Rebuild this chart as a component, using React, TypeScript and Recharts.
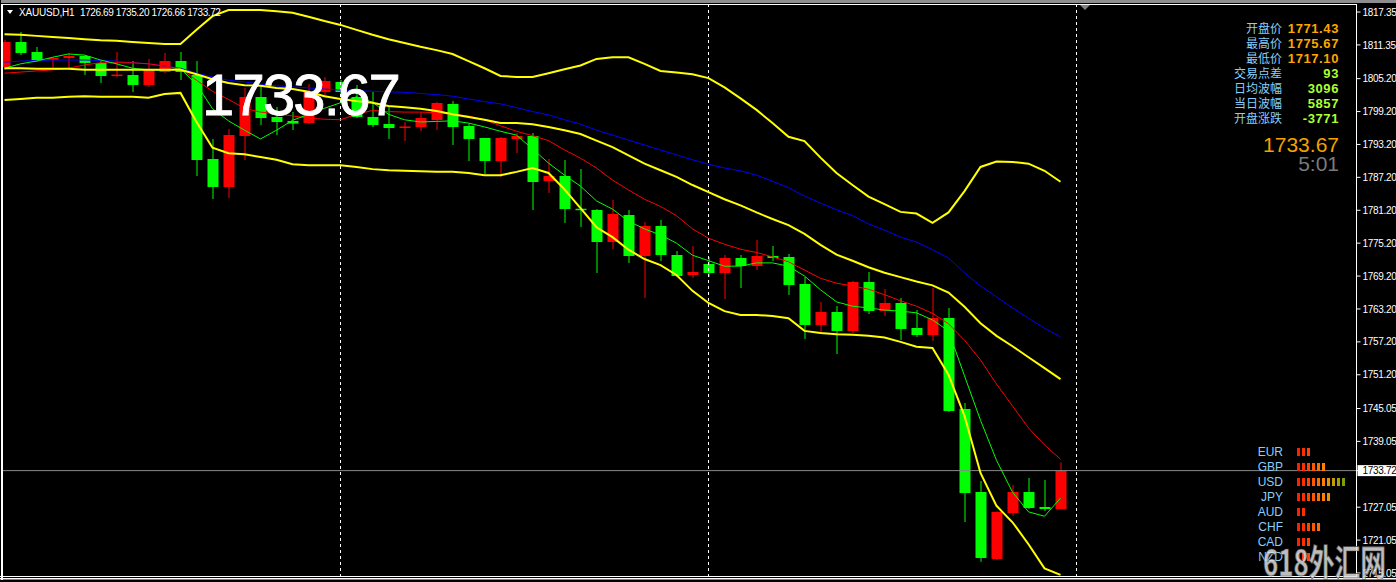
import { Bar, BarChart, ComposedChart, Line, ReferenceLine, XAxis, YAxis } from 'recharts';

// XAUUSD H1, 67 bars, oldest first
const opens = [
  1807.32, 1811.88, 1810.06, 1808.6, 1808.96, 1809.33, 1808.05, 1805.75, 1805.86, 1804.04,
  1806.41, 1808.42, 1805.86, 1790.55, 1785.44, 1794.74, 1801.85, 1798.21, 1797.48, 1797.11,
  1802.76, 1804.59, 1801.85, 1798.21, 1796.93, 1796.3, 1796.38, 1797.66, 1800.58, 1796.56,
  1794.38, 1790.18, 1794.19, 1794.74, 1786.53, 1787.45, 1781.43, 1781.25, 1775.41, 1780.33,
  1772.86, 1778.33, 1773.04, 1769.39, 1771.4, 1769.76, 1772.49, 1771.03, 1772.86, 1772.68,
  1767.75, 1760.28, 1762.65, 1759.18, 1768.12, 1762.83, 1764.29, 1759.73, 1758.45, 1761.55,
  1744.96, 1729.82, 1717.61, 1725.99, 1729.82, 1727.09, 1726.69,
];
const highs = [
  1812.25, 1813.7, 1810.97, 1809.15, 1809.88, 1809.51, 1808.6, 1810.06, 1808.42, 1808.78,
  1809.88, 1810.06, 1808.42, 1794.19, 1796.02, 1803.49, 1804.04, 1800.03, 1799.12, 1804.22,
  1805.5, 1804.95, 1804.04, 1802.76, 1800.03, 1797.29, 1799.12, 1800.94, 1801.12, 1797.11,
  1794.38, 1794.56, 1795.29, 1795.29, 1790.55, 1790.36, 1788.72, 1781.43, 1783.07, 1781.25,
  1779.06, 1779.42, 1773.77, 1774.68, 1772.68, 1773.04, 1773.04, 1775.78, 1774.68, 1773.22,
  1769.03, 1764.47, 1763.74, 1768.3, 1769.94, 1766.84, 1765.2, 1763.01, 1767.02, 1763.38,
  1746.05, 1731.83, 1726.3, 1731.1, 1732.38, 1732.01, 1735.2,
];
const lows = [
  1806.78, 1809.51, 1808.23, 1807.14, 1807.14, 1805.86, 1804.4, 1805.5, 1802.76, 1803.68,
  1806.23, 1804.95, 1787.45, 1783.25, 1783.43, 1790.36, 1796.75, 1794.92, 1795.83, 1796.93,
  1801.85, 1802.22, 1798.02, 1796.38, 1794.19, 1793.83, 1795.65, 1795.83, 1793.1, 1790.18,
  1787.81, 1787.26, 1791.64, 1781.25, 1784.35, 1778.88, 1778.15, 1769.76, 1774.13, 1771.58,
  1765.2, 1771.95, 1769.03, 1768.85, 1769.03, 1765.02, 1767.02, 1770.31, 1771.95, 1765.75,
  1757.72, 1758.82, 1754.99, 1758.82, 1762.28, 1761.92, 1757.54, 1758.09, 1757.36, 1744.4,
  1724.35, 1717.1, 1717.4, 1725.45, 1726.72, 1726.36, 1726.66,
];
const closes = [
  1811.88, 1809.88, 1808.6, 1808.96, 1809.33, 1808.05, 1805.68, 1805.86, 1804.04, 1806.78,
  1808.42, 1806.41, 1790.36, 1785.44, 1794.92, 1801.85, 1798.02, 1797.29, 1797.0, 1802.76,
  1804.77, 1802.76, 1798.21, 1796.75, 1796.2, 1796.38, 1798.02, 1800.76, 1796.38, 1794.19,
  1790.18, 1794.38, 1794.74, 1786.35, 1787.45, 1781.43, 1781.25, 1775.41, 1780.52, 1772.86,
  1778.33, 1773.04, 1769.21, 1769.94, 1769.76, 1772.49, 1771.03, 1772.86, 1772.49, 1767.57,
  1760.28, 1762.65, 1759.18, 1768.12, 1762.83, 1764.29, 1759.55, 1758.45, 1761.55, 1744.59,
  1729.64, 1717.79, 1726.18, 1729.82, 1726.91, 1726.72, 1733.72,
];

// bollinger bands (yellow)
const upperBand = [
  1813.3, 1813.2, 1813.0, 1812.8, 1812.6, 1812.4, 1812.2, 1812.1, 1811.9, 1811.7,
  1811.5, 1811.5, 1814.1, 1816.6, 1817.7, 1817.7, 1817.7, 1817.5, 1817.2, 1816.5,
  1815.7, 1815.0, 1814.1, 1813.2, 1812.4, 1811.7, 1811.0, 1810.4, 1809.7, 1808.4,
  1807.1, 1805.7, 1805.5, 1805.5, 1806.2, 1806.9, 1807.6, 1808.8, 1809.1, 1809.1,
  1807.9, 1806.6, 1806.3, 1806.0, 1805.3, 1803.6, 1801.6, 1799.5, 1797.1, 1794.6,
  1793.8, 1790.8, 1788.0, 1785.8, 1783.7, 1782.3, 1780.9, 1780.6, 1778.9, 1780.8,
  1784.7, 1789.1, 1790.1, 1790.0, 1789.7, 1788.4, 1786.4,
];
const middleBand = [
  1807.1, 1807.1, 1807.0, 1807.0, 1807.0, 1806.8, 1806.8, 1806.8, 1806.8, 1806.8,
  1806.8, 1806.8, 1806.0, 1805.1, 1804.4, 1804.0, 1803.9, 1803.5, 1803.3, 1802.8,
  1802.0, 1801.5, 1801.1, 1800.8, 1800.2, 1800.0, 1799.7, 1799.3, 1798.7, 1798.2,
  1797.7, 1797.1, 1797.1, 1796.9, 1796.4, 1795.8, 1795.1, 1793.9, 1792.7, 1791.2,
  1789.7, 1788.5, 1787.3, 1785.8, 1784.5, 1783.2, 1782.1, 1780.8, 1779.6, 1778.5,
  1776.9, 1774.9, 1773.1, 1772.0, 1770.8, 1769.8, 1769.0, 1768.2, 1767.5, 1766.2,
  1763.6, 1760.6, 1758.3, 1756.4, 1754.4, 1752.4, 1750.4,
];
const lowerBand = [
  1801.3, 1801.5, 1801.7, 1801.7, 1801.9, 1802.0, 1801.9, 1801.9, 1801.9, 1801.7,
  1802.4, 1802.6, 1797.3, 1792.6, 1791.6, 1791.4, 1790.9, 1790.4, 1789.6, 1789.4,
  1789.4, 1789.4, 1789.1, 1788.7, 1788.5, 1788.4, 1788.3, 1788.2, 1788.2, 1788.0,
  1787.6, 1787.6, 1788.2, 1788.9, 1788.0, 1785.0, 1781.6, 1778.1, 1776.3, 1774.0,
  1772.3, 1771.2, 1769.4, 1766.5, 1764.3, 1762.8, 1762.1, 1762.1, 1761.9, 1761.5,
  1759.2, 1758.8, 1758.6, 1758.5, 1758.3, 1758.0, 1757.2, 1756.3, 1756.1, 1751.2,
  1743.7, 1733.3, 1727.3, 1724.3, 1720.3, 1715.9, 1714.7,
];
// moving averages
const blueMa = [
  1808.2, 1808.4, 1808.5, 1808.6, 1808.6, 1808.6, 1808.5, 1808.4, 1808.1, 1807.9,
  1807.5, 1807.1, 1806.2, 1805.5, 1804.9, 1804.6, 1804.2, 1803.9, 1803.7, 1803.5,
  1803.3, 1803.1, 1803.0, 1802.9, 1802.8, 1802.7, 1802.5, 1802.3, 1802.0, 1801.5,
  1801.0, 1800.6, 1799.9, 1799.2, 1798.6, 1797.7, 1796.9, 1795.8, 1794.9, 1794.0,
  1793.1, 1792.2, 1791.3, 1790.4, 1789.6, 1788.9, 1788.4, 1787.6, 1786.5, 1785.3,
  1783.8, 1782.5, 1781.3, 1780.2, 1778.7, 1777.6, 1776.3, 1775.4, 1774.0, 1772.5,
  1769.8, 1767.4, 1765.4, 1763.4, 1761.5, 1759.7, 1758.1,
];
const redMa = [
  1806.2, 1806.4, 1806.6, 1806.8, 1807.1, 1807.7, 1808.1, 1808.1, 1808.1, 1807.9,
  1807.5, 1807.0, 1804.9, 1802.9, 1801.4, 1799.8, 1799.1, 1798.8, 1798.4, 1798.0,
  1797.8, 1797.7, 1798.7, 1799.4, 1799.2, 1799.1, 1799.1, 1799.0, 1798.7, 1798.4,
  1797.7, 1796.6, 1795.6, 1794.8, 1793.9, 1792.2, 1790.7, 1788.9, 1786.7, 1784.9,
  1783.2, 1781.9, 1780.2, 1777.8, 1776.1, 1775.0, 1774.1, 1773.5, 1772.7, 1771.8,
  1770.3, 1768.8, 1767.9, 1767.4, 1766.8, 1765.8, 1764.7, 1763.7, 1762.4, 1760.5,
  1757.5, 1753.9, 1749.5, 1745.5, 1741.5, 1738.4, 1735.8,
];
const greenMa = [
  1807.1, 1807.9, 1808.4, 1809.1, 1809.7, 1809.5, 1808.6, 1807.9, 1807.1, 1806.8,
  1806.8, 1807.0, 1804.2, 1799.7, 1797.5, 1795.8, 1794.2, 1795.8, 1797.6, 1798.7,
  1799.8, 1800.8, 1801.9, 1800.9, 1798.7, 1797.7, 1797.3, 1797.4, 1797.5, 1797.1,
  1796.4, 1795.6, 1794.9, 1792.4, 1789.8, 1787.6, 1785.6, 1782.9, 1781.4, 1779.2,
  1777.8, 1776.7, 1775.2, 1773.0, 1772.0, 1771.0, 1771.0, 1771.6, 1771.6, 1771.0,
  1769.2, 1766.7, 1764.5, 1763.7, 1763.4, 1763.0, 1762.8, 1762.5, 1761.2, 1759.2,
  1751.0, 1742.9, 1735.6, 1729.8, 1726.2, 1725.4, 1728.7,
];

const priceTicks = [
  1817.35, 1811.35, 1805.2, 1799.2, 1793.2, 1787.2, 1781.2, 1775.2, 1769.2, 1763.2,
  1757.2, 1751.2, 1745.05, 1739.05, 1733.72, 1727.05, 1721.05, 1715.05,
];
const separators = [21, 44, 67];
const totalSlots = 85; // bars + empty space on the right

const infoLabels = ['开盘价', '最高价', '最低价', '交易点差', '日均波幅', '当日波幅', '开盘涨跌'];
const infoValues = ['1771.43', '1775.67', '1717.10', '93', '3096', '5857', '-3771'];

const currencies = ['EUR', 'GBP', 'USD', 'JPY', 'AUD', 'CHF', 'CAD', 'NZD'];
const strength = [3, 6, 10, 7, 2, 5, 3, 3];
const segColors = ['#ff1e00', '#ff3000', '#ff4400', '#ff5800', '#ff6c00', '#ff8000', '#e69400', '#c49c00', '#9ea000', '#80a000'];

const lastClose = closes[closes.length - 1];

const rows = Array.from({ length: totalSlots }, (_, i) =>
  i < opens.length
    ? {
        i,
        open: opens[i],
        high: highs[i],
        low: lows[i],
        close: closes[i],
        range: [lows[i], highs[i]],
        up: upperBand[i],
        mid: middleBand[i],
        lo: lowerBand[i],
        blue: blueMa[i],
        red: redMa[i],
        green: greenMa[i],
      }
    : { i },
);

const fxRows = currencies.map((code, k) => ({ code, level: strength[k] }));

function Candle(props: any) {
  const { x, y, width, height, payload } = props;
  if (payload == null || payload.open == null) return null;
  const top = Math.min(y, y + height);
  const span = Math.abs(height);
  const rng = payload.high - payload.low;
  const toY = (v: number) => (rng > 0 ? top + ((payload.high - v) / rng) * span : top);
  const bull = payload.close >= payload.open;
  const color = bull ? '#ff0000' : '#00ff00';
  const yo = toY(payload.open);
  const yc = toY(payload.close);
  let bTop = Math.min(yo, yc);
  let bH = Math.abs(yo - yc);
  if (bH < 1.5) {
    bTop -= (1.5 - bH) / 2;
    bH = 1.5;
  }
  const cx = x + width / 2;
  return (
    <g>
      <line x1={cx} x2={cx} y1={top} y2={top + span} stroke={color} strokeWidth={1} />
      <rect x={x} y={bTop} width={width} height={bH} fill={color} />
    </g>
  );
}

function PriceTick(props: any) {
  const { x, y, payload } = props;
  const v: number = payload.value;
  const font = { fontFamily: '"Liberation Sans", Arial, sans-serif', fontSize: 10, letterSpacing: -0.3 };
  if (v === lastClose) {
    return (
      <g>
        <rect x={x - 5} y={y - 5.5} width={40} height={11} fill="#fff" />
        <text x={x} y={y} dy="0.36em" fill="#000" {...font}>{v.toFixed(2)}</text>
      </g>
    );
  }
  return (
    <text x={x} y={y} dy="0.36em" fill="#fff" {...font}>{v.toFixed(2)}</text>
  );
}

function CurrencyTick(props: any) {
  const { y, payload } = props;
  return (
    <text x={33} y={y} dy="0.36em" textAnchor="end" fill="#87cefa" fontSize={12} fontFamily='"Liberation Sans", Arial, sans-serif'>
      {payload.value}
    </text>
  );
}

function Segments(props: any) {
  const { x, y, width, height, payload } = props;
  const n = payload.level;
  const step = width / n;
  return (
    <g>
      {Array.from({ length: n }, (_, k) => (
        <rect key={k} x={x + k * step} y={y} width={3} height={height} fill={segColors[k]} />
      ))}
    </g>
  );
}

export default function App() {
  const mono = '"Liberation Sans", Arial, sans-serif';
  return (
    <div style={{ position: 'relative', width: 1396, height: 582, background: '#000', overflow: 'hidden' }}>
      <style>{'body{margin:0;background:#000}'}</style>
      <div style={{ position: 'absolute', left: -4, top: 0 }}>
        <ComposedChart width={1400} height={582} data={rows} margin={{ top: 5, right: 0, bottom: 5, left: 0.5 }}>
          <XAxis dataKey="i" type="category" hide />
          <YAxis
            orientation="right"
            type="number"
            domain={[1714.32, 1818.63]}
            allowDataOverflow
            ticks={priceTicks}
            interval={0}
            width={39.5}
            tickSize={4}
            tickMargin={2}
            tickLine={{ stroke: '#fff' }}
            axisLine={{ stroke: '#fff' }}
            tick={<PriceTick />}
          />
          {separators.map((s) => (
            <ReferenceLine key={s} x={s} stroke="#fff" strokeDasharray="3 3" ifOverflow="visible" />
          ))}
          <ReferenceLine y={lastClose} stroke="#8a8a8a" />
          <Bar dataKey="range" barSize={11} shape={<Candle />} isAnimationActive={false} />
          <Line dataKey="blue" type="linear" stroke="#0000ff" strokeWidth={1} dot={false} isAnimationActive={false} />
          <Line dataKey="red" type="linear" stroke="#ff0000" strokeWidth={1} dot={false} isAnimationActive={false} />
          <Line dataKey="green" type="linear" stroke="#00ff00" strokeWidth={1} dot={false} isAnimationActive={false} />
          <Line dataKey="up" type="linear" stroke="#ffff00" strokeWidth={2} dot={false} isAnimationActive={false} />
          <Line dataKey="mid" type="linear" stroke="#ffff00" strokeWidth={2} dot={false} isAnimationActive={false} />
          <Line dataKey="lo" type="linear" stroke="#ffff00" strokeWidth={2} dot={false} isAnimationActive={false} />
        </ComposedChart>
      </div>

      <div style={{ position: 'absolute', left: 1250, top: 443.8 }}>
        <BarChart width={97} height={120} data={fxRows} layout="vertical" margin={{ top: 0, right: 0, bottom: 0, left: 0 }}>
          <XAxis type="number" domain={[0, 10]} hide />
          <YAxis type="category" dataKey="code" width={47} tickLine={false} axisLine={false} tick={<CurrencyTick />} interval={0} />
          <Bar dataKey="level" barSize={8} shape={<Segments />} isAnimationActive={false} />
        </BarChart>
      </div>

      <svg width={1396} height={582} style={{ position: 'absolute', left: 0, top: 0, pointerEvents: 'none' }}>
        {/* window frame */}
        <rect x={0} y={0} width={1396} height={3} fill="#8e8e8e" />
        <rect x={0} y={4} width={1357} height={1} fill="#fff" />
        <rect x={0} y={0} width={1} height={582} fill="#000" />
        <rect x={1} y={4} width={2} height={576} fill="#fff" />
        <rect x={0} y={576} width={1357} height={1} fill="#fff" />
        <rect x={0} y={578} width={1396} height={1.5} fill="#fff" />
        <polygon points="1080,5 1090,5 1085,10" fill="#808080" />

        {/* header */}
        <polygon points="7,10 13,10 10,14" fill="#fff" />
        <text x={19} y={16} fill="#fff" fontSize={10} fontFamily={mono} letterSpacing={-0.2}>XAUUSD,H1</text>
        <text x={80} y={16} fill="#fff" fontSize={10} fontFamily={mono} letterSpacing={-0.4}>
          1726.69 1735.20 1726.66 1733.72
        </text>

        {/* big last price */}
        <text x={202} y={115} fill="#fff" stroke="#fff" strokeWidth={0.8} fontSize={58} fontFamily={mono} letterSpacing={-1.8}>1733.67</text>

        {/* info panel */}
        {infoLabels.map((l, k) => (
          <text key={l} x={1282} y={33 + 15 * k} textAnchor="end" fill="#87cefa" fontSize={12} fontFamily='"Noto Sans CJK SC", sans-serif'>
            {l}
          </text>
        ))}
        {infoValues.map((v, k) => (
          <text
            key={k}
            x={1339}
            y={33.3 + 15 * k}
            textAnchor="end"
            fill={k < 3 ? '#ffa500' : '#adff2f'}
            fontSize={13}
            fontWeight={700}
            fontFamily={mono}
            letterSpacing={0.6}
          >
            {v}
          </text>
        ))}
        <text x={1339} y={152} textAnchor="end" fill="#f5a000" fontSize={21} fontFamily={mono}>1733.67</text>
        <text x={1339} y={171} textAnchor="end" fill="#7a7a7a" fontSize={21} fontFamily={mono}>5:01</text>

        {/* watermark */}
        <g transform="translate(1263,576) scale(0.76,1.08)">
          <text x={0} y={0} fill="rgba(225,225,225,0.85)" stroke="#4a4a4a" strokeWidth={0.6} fontSize={34} fontWeight={700} fontFamily='"Noto Sans CJK SC", sans-serif'>
            618外汇网
          </text>
        </g>
      </svg>
    </div>
  );
}
